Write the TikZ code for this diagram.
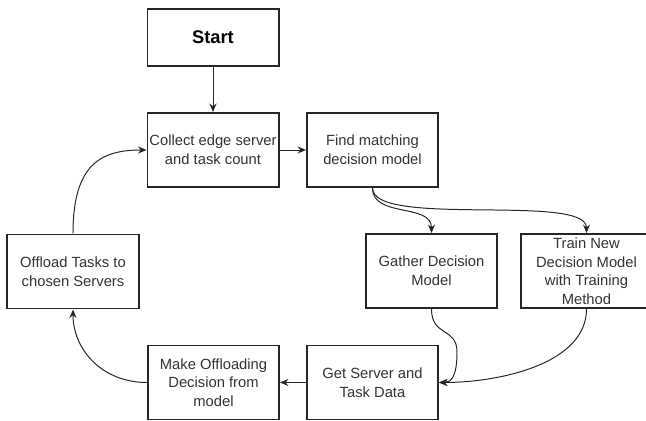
\documentclass[tikz,border=0pt]{standalone}
\usepackage{fontspec}
\setmainfont{Liberation Sans}
\usetikzlibrary{arrows.meta}

\begin{document}
\begin{tikzpicture}[x=0.025cm,y=-0.025cm,>={Stealth[length=6pt,width=5pt]},
  box/.style={draw=black!85,line width=1.4pt,minimum width=3.275cm,minimum height=1.85cm,inner sep=1pt,align=center,font=\fontsize{10.5}{13.2}\selectfont,text=black!80},
  link/.style={->,line width=0.7pt,draw=black!85}]
\useasboundingbox (0,0) rectangle (646,421);
\clip (0,0) rectangle (646,421);
\node[box,minimum height=1.425cm,font=\fontsize{13}{15}\selectfont\bfseries,text=black] (start) at (213,37.5) {Start};
\node[box] (collect) at (213,150) {Collect edge server\\and task count};
\node[box] (find) at (372.5,150) {Find matching\\decision model};
\node[box] (gather) at (431.5,271) {Gather Decision\\Model};
\node[box] (train) at (586.5,271) {Train New\\Decision Model\\with Training\\Method};
\node[box] (offload) at (73,271.5) {Offload Tasks to\\chosen Servers};
\node[box] (make) at (213.5,382.5) {Make Offloading\\Decision from\\model};
\node[box] (get) at (372.5,382.5) {Get Server and\\Task Data};
\coordinate (bend) at (457,352);
\draw[link] (start) -- (collect);
\draw[link] (collect) -- (find);
\draw[link] (find.south) .. controls +(0,30) and +(0,-30) .. (gather.north);
\draw[link] (find.south) .. controls +(0,40) and +(0,-40) .. (train.north);
\draw[link] (gather.south) .. controls +(0,28) and +(0,-25) .. (bend) .. controls +(0,25) and +(12,0) .. (get.east);
\draw[link] (train.south) .. controls +(0,55) and +(60,0) .. (get.east);
\draw[link] (get) -- (make);
\draw[link] (make.west) .. controls +(-45,0) and +(0,40) .. (offload.south);
\draw[link] (offload.north) .. controls +(0,-70) and +(-45,0) .. (collect.west);
\end{tikzpicture}
\end{document}
